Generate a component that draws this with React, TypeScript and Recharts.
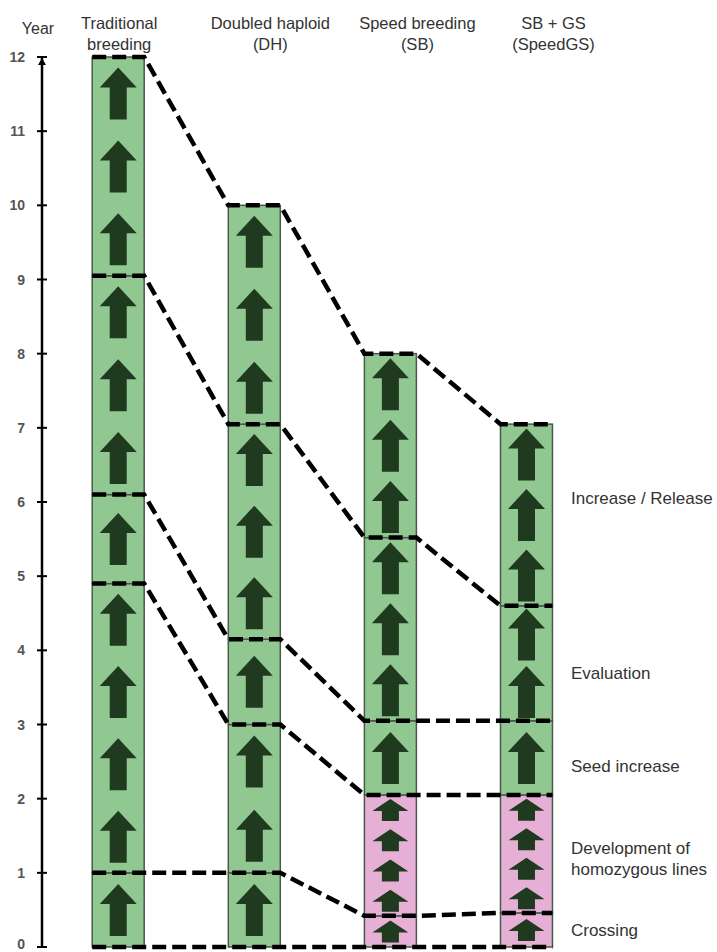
import React from 'react';
import { ComposedChart, XAxis, YAxis, ReferenceArea, Line, Scatter } from 'recharts';

// ---- data ----
const headerLine1 = ['Traditional', 'Doubled haploid', 'Speed breeding', 'SB + GS'];
const headerLine2 = ['breeding', '(DH)', '(SB)', '(SpeedGS)'];
const stageNames = ['Crossing', 'Development of\nhomozygous lines', 'Seed increase', 'Evaluation', 'Increase / Release'];
// stage boundaries (years) per breeding method, bottom to top
const traditionalYears = [0, 1, 4.9, 6.1, 9.05, 12];
const doubledHaploidYears = [0, 1, 3, 4.15, 7.05, 10];
const speedBreedingYears = [0, 0.42, 2.05, 3.05, 5.52, 8];
const speedGSYears = [0, 0.46, 2.05, 3.05, 4.6, 7.05];
// generations (arrows) per stage
const traditionalArrows = [1, 4, 1, 3, 3];
const doubledHaploidArrows = [1, 2, 1, 3, 3];
const speedBreedingArrows = [1, 4, 1, 3, 3];
const speedGSArrows = [1, 4, 1, 2, 3];
const compressedColumns = [false, false, true, true];
const stageLabelYears = [0.23, 1.19, 2.44, 3.7, 6.05];
const yearTicks = [0, 1, 2, 3, 4, 5, 6, 7, 8, 9, 10, 11, 12];
const columnTicks = [1, 2, 3, 4];

const columnYears = [traditionalYears, doubledHaploidYears, speedBreedingYears, speedGSYears];
const columnArrows = [traditionalArrows, doubledHaploidArrows, speedBreedingArrows, speedGSArrows];

// ---- styles ----
const FONT = '"Liberation Sans", Arial, sans-serif';
const GREEN = '#91c891';
const PINK = '#e6b0d6';
const ARROW = '#1f3a1f';
const BORDER = '#4a5a4a';
const HW = 0.191; // half column width in x units
const LABEL_X = 4.327;
const headerOffsets = [1, 16, 27, 27];

function arrowPath(cx: number, cy: number, small: boolean) {
  if (small) {
    const top = cy - 11, base = cy + 1, bot = cy + 11, hw = 18, sw = 8.5;
    return `M${cx},${top} L${cx + hw},${base} L${cx + sw},${base} L${cx + sw},${bot} L${cx - sw},${bot} L${cx - sw},${base} L${cx - hw},${base} Z`;
  }
  const top = cy - 26, base = cy - 6, bot = cy + 26, hw = 18.5, sw = 8.5;
  return `M${cx},${top} L${cx + hw},${base} L${cx + sw},${base} L${cx + sw},${bot} L${cx - sw},${bot} L${cx - sw},${base} L${cx - hw},${base} Z`;
}

function Segment(props: any) {
  const { x, y, width, height, fill, arrows, small } = props;
  const items = [];
  for (let i = 0; i < arrows; i++) {
    const cy = y + ((i + 0.5) * height) / arrows;
    items.push(<path key={i} d={arrowPath(x + width / 2, cy, small)} fill={ARROW} />);
  }
  return (
    <g>
      <rect x={x} y={y} width={width} height={height} fill={fill} stroke={BORDER} strokeWidth={1.5} />
      {items}
    </g>
  );
}

function YTick(props: any) {
  const { x, y, payload } = props;
  return (
    <g>
      <line x1={x - 5} x2={x + 5} y1={y} y2={y} stroke="#000" strokeWidth={2} />
      {payload.value === 12 && <path d={`M${x},${y + 1} L${x - 4},${y + 8} L${x + 4},${y + 8} Z`} fill="#000" />}
      <text x={x - 17} y={y} dy={payload.value === 0 ? 2 : 5} textAnchor="end" fontFamily={FONT} fontSize={14} fontWeight={600} fill="#555">
        {payload.value}
      </text>
    </g>
  );
}

function HeaderTick(props: any) {
  const { x, y, payload } = props;
  const i = payload.value - 1;
  if (i < 0 || i > 3) return null;
  const cx = x + headerOffsets[i];
  return (
    <g>
      <text x={cx} y={y - 28} textAnchor="middle" fontFamily={FONT} fontSize={16.5} fill="#333">{headerLine1[i]}</text>
      <text x={cx} y={y - 7} textAnchor="middle" fontFamily={FONT} fontSize={16.5} fill="#333">{headerLine2[i]}</text>
    </g>
  );
}

function StageLabel(props: any) {
  const { cx, cy, payload } = props;
  const lines = String(payload.name).split('\n');
  const lh = 21;
  return (
    <text x={cx} y={cy} fontFamily={FONT} fontSize={17} fill="#333">
      {lines.map((l, i) => (
        <tspan key={i} x={cx} y={cy + (i - (lines.length - 1) / 2) * lh} dy={6}>{l}</tspan>
      ))}
    </text>
  );
}

const connectorData = traditionalYears.map((_, k) =>
  columnYears.flatMap((yrs, c) => [
    { x: c + 1 - HW, y: yrs[k] },
    { x: c + 1 + HW, y: yrs[k] },
  ])
);

const stageLabelData = stageNames.map((name, i) => ({ x: LABEL_X, y: stageLabelYears[i], name }));

export default function App() {
  const areas: any[] = [];
  columnYears.forEach((yrs, c) => {
    for (let s = 0; s < yrs.length - 1; s++) {
      const pink = compressedColumns[c] && s <= 1;
      const n = columnArrows[c][s];
      areas.push(
        <ReferenceArea
          key={`a-${c}-${s}`}
          x1={c + 1 - HW}
          x2={c + 1 + HW}
          y1={yrs[s]}
          y2={yrs[s + 1]}
          ifOverflow="visible"
          shape={(p: any) => <Segment {...p} fill={pink ? PINK : GREEN} arrows={n} small={pink} />}
        />
      );
    }
  });

  return (
    <div style={{ position: 'absolute', left: 0, top: 0, width: 717, height: 952, background: '#fff' }}>
      <ComposedChart width={717} height={952} margin={{ top: 0, right: 0, bottom: 5, left: 0 }}>
        <XAxis
          dataKey="x"
          type="number"
          orientation="top"
          domain={[0.44, 5.4]}
          ticks={columnTicks}
          interval={0}
          height={57}
          axisLine={false}
          tickLine={false}
          tickSize={0}
          tickMargin={0}
          tick={<HeaderTick />}
        />
        <YAxis
          dataKey="y"
          type="number"
          domain={[0, 12]}
          ticks={yearTicks}
          interval={0}
          width={42}
          axisLine={{ stroke: '#000', strokeWidth: 2.5 }}
          tickLine={false}
          tickSize={0}
          tickMargin={0}
          tick={<YTick />}
          label={{
            content: () => (
              <text x={38} y={34} textAnchor="middle" fontFamily={FONT} fontSize={16} fill="#333">Year</text>
            ),
          }}
        />
        {areas}
        {connectorData.map((d, k) => (
          <Line
            key={`l-${k}`}
            data={d}
            dataKey="y"
            type="linear"
            stroke="#000"
            strokeWidth={4.5}
            strokeDasharray="14 6"
            dot={false}
            activeDot={false}
            isAnimationActive={false}
            legendType="none"
          />
        ))}
        <Scatter
          data={stageLabelData}
          dataKey="y"
          shape={(p: any) => <StageLabel {...p} />}
          isAnimationActive={false}
          legendType="none"
        />
      </ComposedChart>
    </div>
  );
}
